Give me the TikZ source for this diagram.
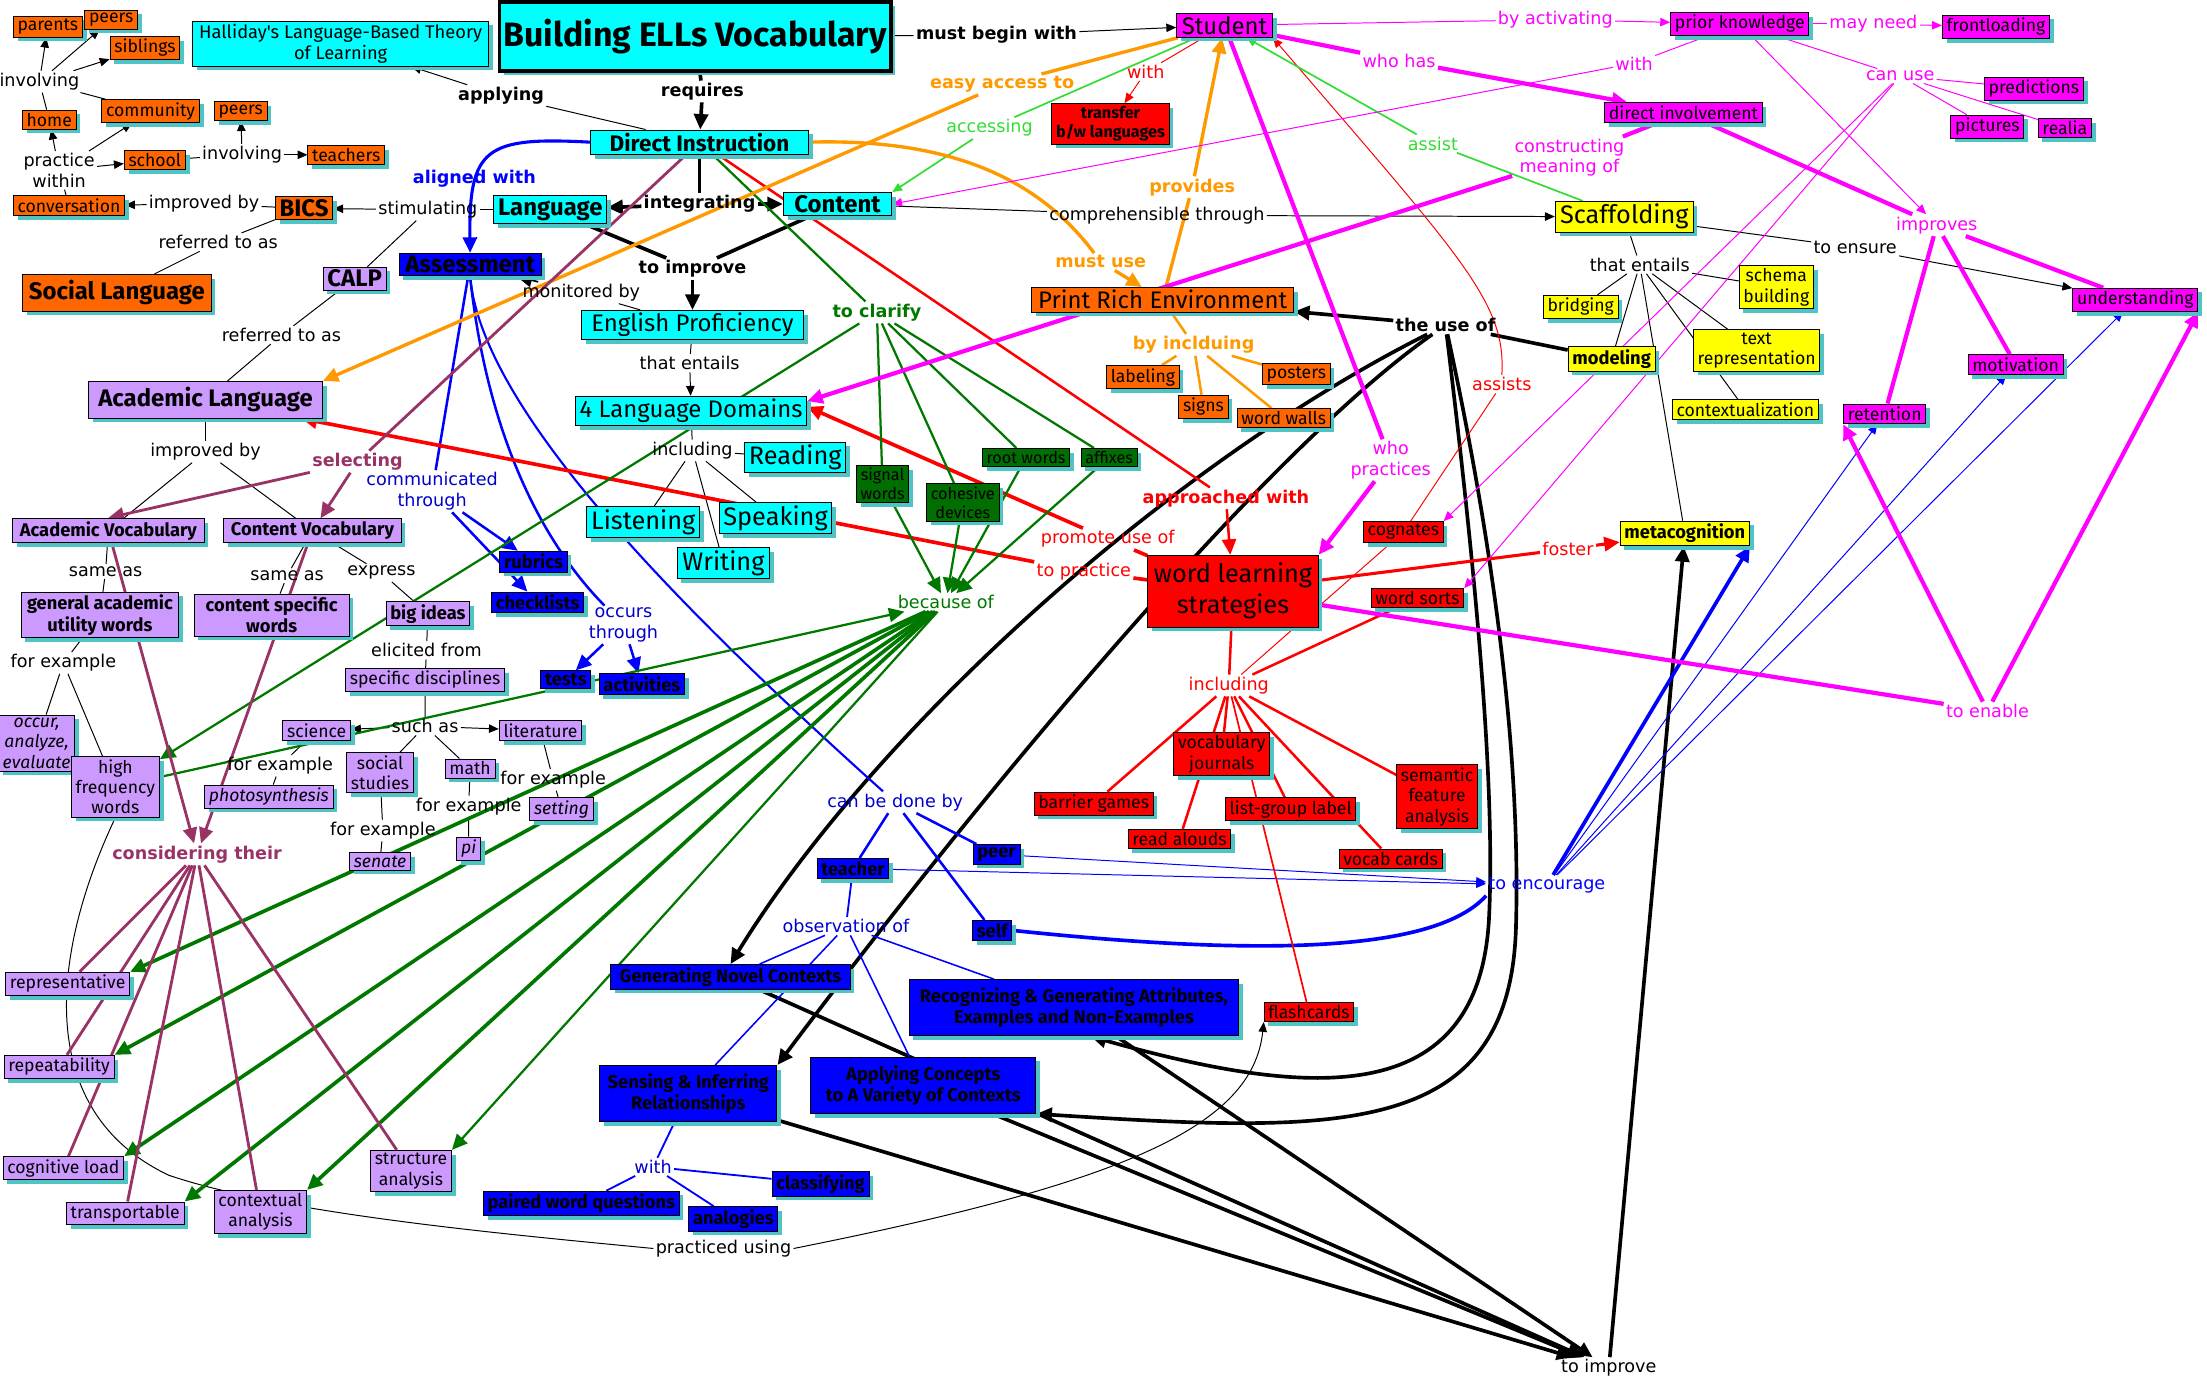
\documentclass[tikz,border=0pt]{standalone}
\usepackage{fontspec}
\setmainfont{DejaVu Sans}
\newfontfamily\boxfont{Fira Sans}
\usetikzlibrary{arrows.meta,shadows}

\definecolor{cyanbox}{RGB}{0,255,255}
\definecolor{orangebox}{RGB}{255,102,0}
\definecolor{purplebox}{RGB}{204,153,255}
\definecolor{greenbox}{RGB}{0,110,0}
\definecolor{mgc}{RGB}{255,0,255}
\definecolor{yelc}{RGB}{255,255,0}
\definecolor{shadowc}{RGB}{80,196,196}
\definecolor{orangeln}{RGB}{255,153,0}
\definecolor{greenln}{RGB}{0,120,0}
\definecolor{limeln}{RGB}{51,220,51}
\definecolor{plumln}{RGB}{153,51,102}
\definecolor{blueln}{RGB}{0,0,204}

\newcommand\cf[2]{\boxfont\fontsize{#1}{#2}\selectfont}
\newcommand\lf{\fontsize{12.5}{14.5}\selectfont}

\pgfdeclarelayer{edges}
\pgfsetlayers{edges,main}

\tikzset{
  concept/.style={draw, line width=0.7pt, inner xsep=3pt, inner ysep=2pt, align=center, font=\cf{12.5}{14.5},
    drop shadow={shadow xshift=3pt, shadow yshift=-3pt, fill=shadowc, opacity=1}},
  cy/.style={concept, fill=cyanbox},
  og/.style={concept, fill=orangebox},
  pu/.style={concept, fill=purplebox},
  mg/.style={concept, fill=mgc},
  bl/.style={concept, fill=blue, font=\cf{13}{15}\bfseries},
  rd/.style={concept, fill=red},
  ye/.style={concept, fill=yelc},
  gr/.style={concept, fill=greenbox},
  lbl/.style={inner sep=1.5pt, align=center, font=\lf},
  lblb/.style={lbl, font=\lf\bfseries},
  ln/.style={line width=0.7pt},
  tk/.style={line width=2.6pt},
  arr/.style={-{Triangle[length=11pt,width=10pt]}},
  sarr/.style={-{Triangle[length=7pt,width=6pt]}},
}

\begin{document}
\begin{tikzpicture}[x=1pt,y=-1pt]
\useasboundingbox (0,0) rectangle (1568,982);

% home and school
\node[og] (parents) at (34,19) {parents};
\node[og] (peersA) at (79,14) {peers};
\node[og] (siblings) at (103,34) {siblings};
\node[lbl] (linvA) at (28,58) {involving};
\node[og] (home) at (35,85) {home};
\node[og] (community) at (107,79) {community};
\node[og] (peersB) at (171,79) {peers};
\node[lbl] (lpract) at (42,121) {practice\\within};
\node[og] (school) at (110,114) {school};
\node[lbl] (linvB) at (172,110) {involving};
\node[og] (teachers) at (246,110) {teachers};
\node[og] (conversation) at (49,146) {conversation};
\node[lbl] (limpA) at (145,145) {improved by};
\node[og, font=\cf{17}{20}\bfseries] (bics) at (216,148) {BICS};
\node[lbl] (lstim) at (304,149) {stimulating};
\node[lbl] (lrefA) at (155,172) {referred to as};
\node[og, font=\cf{17}{20}\bfseries, minimum width=134pt, minimum height=26pt] (social) at (83,208) {Social Language};
\node[pu, font=\cf{17}{20}\bfseries] (calp) at (252,198) {CALP};
\node[lbl] (lrefB) at (200,238) {referred to as};
\node[pu, font=\cf{17}{20}\bfseries, minimum width=166pt, minimum height=26pt] (academic) at (146,284) {Academic Language};

% main spine
\node[cy, font=\cf{13}{15}, minimum width=210pt] (halliday) at (242,31) {Halliday's Language-Based Theory\\of Learning};
\node[cy, line width=2.5pt, font=\cf{24}{26}\bfseries, minimum width=278pt, minimum height=49pt] (title) at (494,26) {Building ELLs Vocabulary};
\node[lblb] (lmust) at (708,25) {must begin with};
\node[lblb] (lreq) at (499,65) {requires};
\node[lblb] (lapply) at (356,68) {applying};
\node[cy, font=\cf{16}{18}\bfseries, minimum width=155pt] (direct) at (497,101) {Direct Instruction};
\node[lblb, text=blue] (laligned) at (337,127) {aligned with};
\node[bl, font=\cf{17}{19}\bfseries, minimum width=101pt] (assessment) at (334,188) {Assessment};
\node[cy, font=\cf{17}{19}\bfseries, minimum width=78pt] (language) at (391,149) {Language};
\node[lblb] (lintegr) at (497,145) {integrating};
\node[cy, font=\cf{17}{19}\bfseries, minimum width=77pt] (content) at (595,145) {Content};
\node[lblb] (ltoimpA) at (492,191) {to improve};
\node[lbl] (lmon) at (413,208) {monitored by};
\node[cy, font=\cf{17}{19}, minimum width=158pt] (english) at (492,231) {English Proficiency};
\node[lbl] (lentA) at (490,258) {that entails};
\node[cy, font=\cf{17}{19}, minimum width=162pt] (domains) at (491,292) {4 Language Domains};
\node[lbl] (linclA) at (492,320) {including};
\node[cy, font=\cf{18}{20}, minimum width=70pt] (reading) at (565,325) {Reading};
\node[cy, font=\cf{18}{20}, minimum width=76pt] (listening) at (457,371) {Listening};
\node[cy, font=\cf{18}{20}, minimum width=76pt] (speaking) at (551,368) {Speaking};
\node[cy, font=\cf{18}{20}, minimum width=66pt] (writing) at (514,400) {Writing};
\node[lbl] (lcomp) at (822,153) {comprehensible through};

% student and print
\node[mg, font=\cf{17}{19}, minimum width=68pt] (student) at (870,18) {Student};
\node[lbl, text=red] (lwithA) at (814,51) {with};
\node[rd, font=\cf{11.5}{13.5}\bfseries] (transfer) at (789,88) {transfer\\b/w languages};
\node[lblb, text=orangeln] (leasy) at (712,60) {easy access to};
\node[lbl, text=limeln] (laccess) at (703,91) {accessing};
\node[lblb, text=orangeln] (lprovides) at (847,133) {provides};
\node[lblb, text=orangeln] (lmustuse) at (782,186) {must use};
\node[og, font=\cf{17}{19}, minimum width=186pt] (pre) at (826,213) {Print Rich Environment};
\node[lblb, text=orangeln] (lbyincl) at (848,245) {by inclduing};
\node[og] (labeling) at (812,268) {labeling};
\node[og] (signs) at (855,289) {signs};
\node[og] (posters) at (921,266) {posters};
\node[og] (wordwalls) at (912,297) {word walls};
\node[lblb] (luse) at (1027,231) {the use of};

% clarify
\node[lblb, text=greenln] (lclarify) at (623,222) {to clarify};
\node[gr, font=\cf{11.5}{13.5}] (signal) at (627,344) {signal\\words};
\node[gr, font=\cf{11.5}{13.5}] (cohesive) at (684,357) {cohesive\\devices};
\node[gr, font=\cf{11.5}{13.5}] (root) at (729,325) {root words};
\node[gr, font=\cf{11.5}{13.5}] (affixes) at (788,325) {affixes};
\node[lbl, text=greenln] (lbecause) at (672,428) {because of};

% word learning strategies
\node[lbl, text=red] (lpromote) at (787,383) {promote use of};
\node[lbl, text=red] (lpractB) at (770,406) {to practice};
\node[lblb, text=red] (lapproach) at (871,354) {approached with};
\node[rd, font=\cf{18}{22}, minimum width=121pt, minimum height=51pt] (wls) at (876,420) {word learning\\strategies};
\node[lbl, text=mgc] (lwhoprac) at (988,327) {who\\practices};
\node[rd] (cognates) at (997,378) {cognates};
\node[rd] (wordsorts) at (1007,425) {word sorts};
\node[lbl, text=red] (lfoster) at (1114,390) {foster};
\node[ye, font=\cf{13}{15}\bfseries] (metacog) at (1197,379) {metacognition};
\node[lbl, text=red] (linclB) at (873,487) {including};
\node[rd] (journals) at (868,536) {vocabulary\\journals};
\node[rd] (barrier) at (777,571) {barrier games};
\node[rd] (readalouds) at (838,596) {read alouds};
\node[rd] (listgroup) at (917,575) {list-group label};
\node[rd] (semantic) at (1021,566) {semantic\\feature\\analysis};
\node[rd] (vocabcards) at (988,610) {vocab cards};
\node[rd] (flashcards) at (930,719) {flashcards};

% scaffolding
\node[ye, font=\cf{18}{20}, minimum width=98pt] (scaffolding) at (1154,154) {Scaffolding};
\node[lbl] (lentB) at (1165,188) {that entails};
\node[ye] (bridging) at (1123,218) {bridging};
\node[ye] (schema) at (1262,204) {schema\\building};
\node[ye, font=\cf{13}{15}\bfseries] (modeling) at (1145,255) {modeling};
\node[ye] (textrep) at (1248,249) {text\\representation};
\node[ye] (contextual) at (1240,291) {contextualization};
\node[lbl] (lensure) at (1318,176) {to ensure};
\node[mg] (understanding) at (1517,213) {understanding};
\node[lbl, text=mgc] (limproves) at (1376,160) {improves};
\node[mg] (motivation) at (1432,259) {motivation};
\node[mg] (retention) at (1339,294) {retention};
\node[lbl, text=mgc] (lenable) at (1412,505) {to enable};
\node[lbl, text=red] (lassists) at (1067,273) {assists};
\node[lbl, text=limeln] (lassist) at (1018,102) {assist};
\node[lbl, text=mgc] (lconstruct) at (1115,112) {constructing\\meaning of};
\node[lbl, text=mgc] (lwhohas) at (994,43) {who has};
\node[lbl, text=mgc] (lwithB) at (1161,45) {with};
\node[lbl, text=mgc] (lactiv) at (1105,14) {by activating};
\node[mg] (prior) at (1236,17) {prior knowledge};
\node[lbl, text=mgc] (lmayneed) at (1331,17) {may need};
\node[mg] (frontloading) at (1418,19) {frontloading};
\node[lbl, text=mgc] (lcanuse) at (1350,54) {can use};
\node[mg] (predictions) at (1445,63) {predictions};
\node[mg] (pictures) at (1412,90) {pictures};
\node[mg] (realia) at (1467,91) {realia};
\node[mg] (involvement) at (1196,80) {direct involvement};
\node[lbl, text=blue] (lencourage) at (1099,629) {to encourage};
\node[lbl] (ltoimpB) at (1143,972) {to improve};

% vocabulary
\node[pu, font=\cf{13}{15}\bfseries, minimum width=136pt] (acvocab) at (77,377) {Academic Vocabulary};
\node[pu, font=\cf{13}{15}\bfseries, minimum width=126pt] (cvocab) at (222,377) {Content Vocabulary};
\node[lbl] (limpB) at (146,321) {improved by};
\node[lblb, text=plumln] (lselect) at (254,328) {selecting};
\node[lbl, text=blueln] (lcommun) at (307,349) {communicated\\through};
\node[bl] (rubrics) at (379,399) {rubrics};
\node[bl] (checklists) at (382,428) {checklists};
\node[lbl] (lsameA) at (75,406) {same as};
\node[lbl] (lsameB) at (204,409) {same as};
\node[lbl] (lexpress) at (271,407) {express};
\node[pu, font=\cf{13}{15}\bfseries, minimum width=112pt] (general) at (71,437) {general academic\\utility words};
\node[pu, font=\cf{13}{15}\bfseries, minimum width=110pt] (specific) at (193,437) {content specific\\words};
\node[pu, font=\cf{13}{15}\bfseries] (bigideas) at (304,436) {big ideas};
\node[lbl] (lelicit) at (303,462) {elicited from};
\node[pu] (disciplines) at (302,483) {specific disciplines};
\node[lbl] (lforA) at (45,471) {for example};
\node[pu, font=\cf{12.5}{14.5}\itshape] (occur) at (26,528) {occur,\\analyze,\\evaluate};
\node[pu] (hfw) at (82,559) {high\\frequency\\words};
\node[pu] (science) at (225,519) {science};
\node[lbl] (lsuch) at (302,516) {such as};
\node[pu] (literature) at (384,519) {literature};
\node[lbl] (lforB) at (199,544) {for example};
\node[pu, font=\cf{12.5}{14.5}\itshape] (photo) at (191,566) {photosynthesis};
\node[pu] (socstud) at (270,549) {social\\studies};
\node[pu] (mathn) at (334,546) {math};
\node[lbl] (lforC) at (393,554) {for example};
\node[pu, font=\cf{12.5}{14.5}\itshape] (setting) at (399,575) {setting};
\node[lbl] (lforD) at (333,573) {for example};
\node[pu, font=\cf{12.5}{14.5}\itshape] (pinode) at (333,603) {pi};
\node[lbl] (lforE) at (272,590) {for example};
\node[pu, font=\cf{12.5}{14.5}\itshape] (senate) at (270,612) {senate};
\node[lblb, text=plumln] (lconsider) at (140,607) {considering their};
\node[lbl, text=blueln] (loccurs) at (443,444) {occurs\\through};
\node[bl] (tests) at (402,483) {tests};
\node[bl] (activities) at (456,486) {activities};
\node[pu] (representative) at (48,699) {representative};
\node[pu] (repeatab) at (42,758) {repeatability};
\node[pu] (cogload) at (45,830) {cognitive load};
\node[pu] (transport) at (89,862) {transportable};
\node[pu] (contextan) at (185,861) {contextual\\analysis};
\node[pu] (structure) at (292,832) {structure\\analysis};

% assessment practice
\node[lbl, text=blueln] (ldone) at (636,570) {can be done by};
\node[bl] (teacher) at (606,617) {teacher};
\node[bl] (peer) at (708,607) {peer};
\node[bl] (self) at (705,661) {self};
\node[lbl, text=blueln] (lobs) at (601,658) {observation of};
\node[bl, minimum width=170pt] (gnc) at (519,694) {Generating Novel Contexts};
\node[bl, minimum width=234pt, minimum height=40pt] (recog) at (763,716) {Recognizing \& Generating Attributes,\\Examples and Non-Examples};
\node[bl, minimum width=126pt, minimum height=40pt] (sensing) at (489,777) {Sensing \& Inferring\\Relationships};
\node[bl, minimum width=160pt, minimum height=40pt] (applying) at (656,771) {Applying Concepts\\to A Variety of Contexts};
\node[lbl, text=blueln] (lwithC) at (464,829) {with};
\node[bl] (classify) at (583,841) {classifying};
\node[bl] (paired) at (413,855) {paired word questions};
\node[bl] (analogies) at (521,866) {analogies};
\node[lbl] (lpracticed) at (514,887) {practiced using};

\begin{pgfonlayer}{edges}
% black
\draw[ln] (home) -- (linvA);
\draw[ln] (community) -- (linvA);
\foreach \t in {parents,peersA,siblings} \draw[ln,sarr] (linvA) -- (\t);
\draw[ln] (conversation) -- (lpract);
\foreach \t in {home,community,school} \draw[ln,sarr] (lpract) -- (\t);
\draw[ln] (school) -- (linvB);
\foreach \t in {peersB,teachers} \draw[ln,sarr] (linvB) -- (\t);
\draw[ln] (bics) -- (limpA);
\draw[ln,sarr] (limpA) -- (conversation);
\draw[ln] (language) -- (lstim);
\draw[ln,sarr] (lstim) -- (bics);
\draw[ln] (lstim) -- (calp);
\draw[ln] (bics) -- (lrefA) -- (social);
\draw[ln] (calp) -- (lrefB) -- (academic);
\draw[ln] (academic) -- (limpB);
\foreach \t in {acvocab,cvocab} \draw[ln] (limpB) -- (\t);
\draw[ln] (direct) -- (lapply);
\draw[ln,sarr] (lapply) -- (halliday);
\draw[ln] (title) -- (lmust);
\draw[ln,sarr] (lmust) -- (student);
\draw[tk] (title) -- (lreq);
\draw[tk,arr] (lreq) -- (direct);
\draw[tk] (direct) -- (lintegr);
\foreach \t in {language,content} \draw[tk,arr] (lintegr) -- (\t);
\foreach \t in {language,content} \draw[tk] (\t) -- (ltoimpA);
\draw[tk,arr] (ltoimpA) -- (english);
\draw[ln] (english) -- (lmon);
\draw[line width=1.2pt,arr] (lmon) -- (assessment);
\draw[ln] (english) -- (lentA);
\draw[ln,sarr] (lentA) -- (domains);
\draw[ln] (domains) -- (linclA);
\foreach \t in {reading,listening,speaking,writing} \draw[ln] (linclA) -- (\t);
\draw[ln] (content) -- (lcomp);
\draw[ln,sarr] (lcomp) -- (scaffolding);
\draw[ln] (scaffolding) -- (lentB);
\foreach \t in {bridging,schema,modeling,textrep,contextual,metacog} \draw[ln] (lentB) -- (\t);
\draw[ln] (scaffolding) -- (lensure);
\draw[ln,sarr] (lensure) -- (understanding);
\draw[ln] (acvocab) -- (lsameA) -- (general);
\draw[ln] (cvocab) -- (lsameB) -- (specific);
\draw[ln] (cvocab) -- (lexpress) -- (bigideas);
\draw[ln] (bigideas) -- (lelicit) -- (disciplines) -- (lsuch);
\foreach \t in {science,literature} \draw[ln,sarr] (lsuch) -- (\t);
\foreach \t in {socstud,mathn} \draw[ln] (lsuch) -- (\t);
\draw[ln] (science) -- (lforB) -- (photo);
\draw[ln] (socstud) -- (lforE) -- (senate);
\draw[ln] (mathn) -- (lforD) -- (pinode);
\draw[ln] (literature) -- (lforC) -- (setting);
\draw[ln] (general) -- (lforA);
\foreach \t in {occur,hfw} \draw[ln] (lforA) -- (\t);
\draw[ln] (hfw.south) .. controls (35,680) and (25,790) .. (120,835) .. controls (200,862) and (350,876) .. (lpracticed.west);
\draw[ln,sarr] (lpracticed.east) .. controls (800,840) and (890,800) .. (flashcards.south west);
\draw[tk] (modeling) -- (luse);
\draw[tk,arr] (luse) -- (pre);
\draw[tk,arr] (luse) .. controls (830,330) and (620,520) .. (gnc.north);
\draw[tk,arr] (luse) .. controls (900,320) and (700,560) .. (sensing.north east);
\draw[tk,arr] (luse) .. controls (1050,420) and (1062,560) .. (1058,650) .. controls (1052,790) and (930,780) .. ([xshift=12pt]recog.south);
\draw[tk,arr] (luse) .. controls (1068,420) and (1080,560) .. (1077,660) .. controls (1072,810) and (950,805) .. (applying.south east);
\foreach \t in {gnc,sensing,applying,recog} \draw[tk,arr] (\t) -- (ltoimpB);
\draw[tk,arr] (ltoimpB) -- (metacog);
% blue
\draw[blue,line width=2.2pt,arr] (direct.west) .. controls (345,97) and (333,105) .. (assessment.north);
\draw[blue,line width=1.8pt] (assessment) -- (lcommun);
\foreach \t in {rubrics,checklists} \draw[blue,line width=1.8pt,arr] (lcommun) -- (\t);
\draw[blue,line width=1.8pt] (assessment.south) .. controls (345,300) and (380,380) .. (loccurs);
\foreach \t in {tests,activities} \draw[blue,line width=1.8pt,arr] (loccurs) -- (\t);
\draw[blue,line width=1.5pt] (assessment.south) .. controls (342,290) and (480,430) .. (ldone);
\foreach \t in {teacher,peer,self} \draw[blue,line width=1.8pt] (ldone) -- (\t);
\draw[blue,line width=1.3pt] (teacher) -- (lobs);
\foreach \t in {gnc,sensing,applying,recog} \draw[blue,line width=1.1pt] (lobs) -- (\t);
\foreach \t in {teacher,peer} \draw[blue,ln,sarr] (\t) -- (lencourage);
\draw[blue,line width=2.6pt] (self.east) .. controls (900,680) and (1020,676) .. (lencourage.south west);
\draw[blue,line width=2.6pt,arr] (lencourage) -- (metacog.south east);
\foreach \t in {retention,motivation,understanding} \draw[blue,ln,sarr] (lencourage) -- (\t);
\draw[blue,line width=1.3pt] (sensing) -- (lwithC);
\foreach \t in {paired,analogies,classify} \draw[blue,line width=1.3pt] (lwithC) -- (\t);
% red
\draw[red,ln] (student) -- (lwithA);
\draw[red,ln,sarr] (lwithA) -- (transfer);
\draw[red,line width=1.8pt] (direct) -- (lapproach);
\draw[red,line width=1.8pt,arr] (lapproach) -- (wls);
\draw[red,line width=2.6pt] (wls) -- (lpromote);
\draw[red,line width=2.6pt,arr] (lpromote) -- ([yshift=3pt]domains.east);
\draw[red,line width=2.6pt] (wls) -- (lpractB);
\draw[red,line width=2.6pt,arr] (lpractB) -- (academic);
\draw[red,line width=2.2pt] (wls) -- (lfoster);
\draw[red,line width=2.2pt,arr] (lfoster) -- (metacog);
\draw[red,line width=1.8pt] (wls) -- (linclB);
\foreach \t in {journals,barrier,readalouds,listgroup,semantic,vocabcards,wordsorts} \draw[red,line width=1.8pt] (linclB) -- (\t);
\draw[red,line width=1.2pt] (linclB) -- (flashcards);
\draw[red,ln] (linclB) -- (cognates);
\draw[red,ln] (cognates) -- (lassists);
\draw[red,ln,sarr] (lassists.north) .. controls (1070,215) and (1040,185) .. (student.south east);
% green
\draw[greenln,line width=1.6pt] (direct) -- (lclarify);
\foreach \t in {signal,cohesive,root,affixes} \draw[greenln,line width=1.6pt] (lclarify) -- (\t);
\draw[greenln,line width=1.6pt,arr] (lclarify) -- (hfw);
\foreach \t in {signal,cohesive,root,affixes} \draw[greenln,line width=1.6pt,arr] (\t) -- (lbecause);
\draw[greenln,line width=1.6pt,arr] (hfw) -- (lbecause);
\foreach \t in {representative,repeatab,cogload,transport,contextan} \draw[greenln,tk,arr] (lbecause) -- (\t.north east);
\draw[greenln,line width=1.6pt,arr] (lbecause) -- (structure.north east);
\draw[limeln,line width=1.2pt] (student) -- (laccess);
\draw[limeln,line width=1.2pt,sarr] (laccess) -- (content.north east);
\draw[limeln,line width=1.2pt] (scaffolding) -- (lassist);
\draw[limeln,line width=1.2pt,sarr] (lassist) -- (student);
% orange
\draw[orangeln,line width=2.4pt] (student) -- (leasy);
\draw[orangeln,line width=2.4pt,arr] (leasy) -- (academic.north east);
\draw[orangeln,line width=2.4pt] (pre) -- (lprovides);
\draw[orangeln,line width=2.4pt,arr] (lprovides) -- (student);
\draw[orangeln,line width=2.4pt] (direct.east) .. controls (680,98) and (740,130) .. (lmustuse);
\draw[orangeln,line width=2.4pt,arr] (lmustuse) -- (pre);
\draw[orangeln,line width=1.8pt] (pre) -- (lbyincl);
\foreach \t in {labeling,signs,posters,wordwalls} \draw[orangeln,line width=1.8pt] (lbyincl) -- (\t);
% magenta
\draw[mgc,ln] (student) -- (lactiv);
\draw[mgc,ln,sarr] (lactiv) -- (prior);
\draw[mgc,ln] (prior) -- (lmayneed);
\draw[mgc,ln,sarr] (lmayneed) -- (frontloading);
\draw[mgc,ln] (prior) -- (lcanuse);
\foreach \t in {predictions,pictures,realia} \draw[mgc,ln] (lcanuse) -- (\t);
\foreach \t in {cognates,wordsorts} \draw[mgc,ln,sarr] (lcanuse) -- (\t.north east);
\draw[mgc,ln,sarr] (prior) -- (limproves);
\draw[mgc,ln] (prior) -- (lwithB);
\draw[mgc,ln,sarr] (lwithB) -- (content.east);
\draw[mgc,line width=3pt] (student) -- (lwhohas);
\draw[mgc,line width=3pt,arr] (lwhohas) -- (involvement);
\draw[mgc,line width=3pt] (involvement) -- (limproves);
\foreach \t in {understanding,motivation,retention} \draw[mgc,line width=3pt] (limproves) -- (\t);
\draw[mgc,line width=3pt] (involvement) -- (lconstruct);
\draw[mgc,line width=3pt,arr] (lconstruct) -- ([yshift=7pt]domains.east);
\draw[mgc,line width=3pt] (student) -- (lwhoprac);
\draw[mgc,line width=3pt,arr] (lwhoprac) -- (wls.north east);
\draw[mgc,line width=3pt] (wls) -- (lenable);
\draw[mgc,line width=3pt,arr] (lenable) -- (retention.south west);
\draw[mgc,line width=3pt,arr] (lenable) -- (understanding.south east);
% purple
\draw[plumln,line width=2pt] (direct) -- (lselect);
\draw[plumln,line width=2pt,arr] (lselect) -- (acvocab.north);
\draw[plumln,line width=2pt,arr] (lselect) -- (cvocab);
\foreach \t in {acvocab,cvocab} \draw[plumln,line width=2pt,arr] (\t) -- (lconsider);
\foreach \t in {representative,repeatab,cogload,transport,contextan,structure} \draw[plumln,line width=2pt] (lconsider) -- (\t);
\end{pgfonlayer}
\end{tikzpicture}
\end{document}
